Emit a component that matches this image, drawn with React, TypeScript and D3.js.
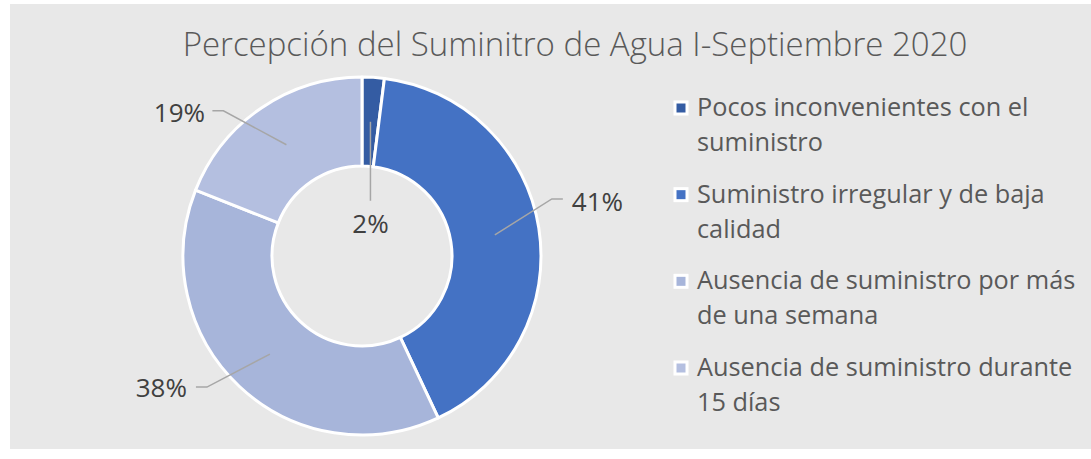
import React from "react";
import * as d3 from "d3";

const title = "Percepción del Suminitro de Agua I-Septiembre 2020";
const categories = [
  "Pocos inconvenientes con el suministro",
  "Suministro irregular y de baja calidad",
  "Ausencia de suministro por más de una semana",
  "Ausencia de suministro durante 15 días",
];
const values = [2, 41, 38, 19];
const colors = ["#345ca3", "#4472c4", "#a7b5da", "#b4bfe0"];
// label leader end offsets from slice centroid (layout)
const labelOffsets = [
  { dx: 0, dy: 79, side: "down" },
  { dx: 68, dy: -36, side: "right" },
  { dx: -74, dy: 33, side: "left" },
  { dx: -74, dy: -34, side: "left" },
];

const W = 1091;
const H = 459;
const FONT = "'Open Sans', 'DejaVu Sans', sans-serif";
const LEGEND_FS = 25.3;
const LEGEND_WRAP = 385;

function wrap(text: string, fontSize: number, maxW: number): string[] {
  const c = document.createElement("canvas").getContext("2d")!;
  c.font = `${fontSize}px 'Open Sans'`;
  const words = text.split(" ");
  const lines: string[] = [];
  let cur = "";
  for (const w of words) {
    const t = cur ? cur + " " + w : w;
    if (c.measureText(t).width > maxW && cur) {
      lines.push(cur);
      cur = w;
    } else cur = t;
  }
  if (cur) lines.push(cur);
  return lines;
}

export default function App() {
  const cx = 362;
  const cy = 256;
  const rOut = 179;
  const rIn = 90;
  const pie = d3.pie<number>().sort(null).value((d) => d);
  const arcs = pie(values);
  const arc = d3.arc<d3.PieArcDatum<number>>().innerRadius(rIn).outerRadius(rOut);
  const total = d3.sum(values);
  const fmt = (v: number) => `${Math.round((v / total) * 100)}%`;

  const legendY = d3.scalePoint<number>().domain(d3.range(categories.length)).range([108, 368]);

  return (
    <svg width={W} height={H} style={{ position: "absolute", left: 0, top: 0 }}>
      <rect x={0} y={0} width={W} height={H} fill="#ffffff" />
      <rect x={10} y={4} width={W - 10} height={445} fill="#e8e8e8" />
      <text x={575} y={56} textAnchor="middle" fontFamily={FONT} fontWeight={300} fontSize={33} fill="#595959">
        {title}
      </text>
      <g transform={`translate(${cx},${cy})`}>
        {arcs.map((a, i) => (
          <path key={i} d={arc(a) || ""} fill={colors[i]} stroke="#ffffff" strokeWidth={3} strokeLinejoin="round" />
        ))}
        {arcs.map((a, i) => {
          const [x0, y0] = arc.centroid(a);
          const o = labelOffsets[i];
          const x1 = x0 + o.dx;
          const y1 = y0 + o.dy;
          let pts: [number, number][] = [];
          let lx = x1, ly = y1, anchor = "middle";
          if (o.side === "down") {
            pts = [[x0, y0], [x1, y1]];
            ly = y1 + 32;
          } else if (o.side === "right") {
            pts = [[x0, y0], [x1 - 11, y1], [x1, y1]];
            lx = x1 + 9; ly = y1 + 12; anchor = "start";
          } else {
            pts = [[x0, y0], [x1 + 11, y1], [x1, y1]];
            if (o.dy < 0) { lx = x1 - 33; ly = y1 + 11; anchor = "middle"; }
            else { lx = x1 - 9; ly = y1 + 10; anchor = "end"; }
          }
          return (
            <g key={"l" + i}>
              <path d={d3.line()(pts) || ""} fill="none" stroke="#a6a6a6" strokeWidth={1.5} />
              <text x={lx} y={ly} textAnchor={anchor} fontFamily={FONT} fontSize={26} fill="#404040">
                {fmt(values[i])}
              </text>
            </g>
          );
        })}
      </g>
      <g>
        {categories.map((c, i) => {
          const y = legendY(i)!;
          const lines = wrap(c, LEGEND_FS, LEGEND_WRAP);
          return (
            <g key={"lg" + i}>
              <rect x={675} y={y - 6} width={12} height={12} fill={colors[i]} stroke="#ffffff" strokeWidth={3} />
              {lines.map((ln, j) => (
                <text key={j} x={697} y={y + 8 + j * 35} fontFamily={FONT} fontSize={LEGEND_FS} fill="#595959">
                  {ln}
                </text>
              ))}
            </g>
          );
        })}
      </g>
    </svg>
  );
}
